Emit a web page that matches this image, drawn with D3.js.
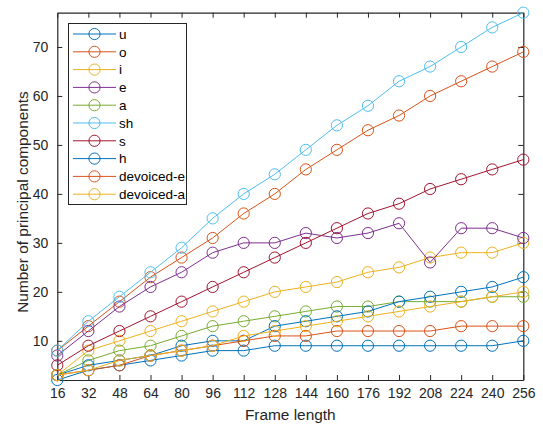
<!DOCTYPE html>
<html lang="en">
  <head>
    <meta charset="utf-8">
    <title>Principal components vs frame length</title>
    <script type="text/javascript" src="https://d3js.org/d3.v7.min.js"></script>
    <style type="text/css">
    body {
      margin: 0;
      background: white;
    }
    text {
      font-family: "Liberation Sans", Arial, Helvetica, sans-serif;
      font-weight: normal;
      fill: #262626;
    }
    .axis path,
    .axis line {
      stroke: #262626;
    }
    .axis text {
      font-size: 14px;
    }
    .label {
      font-size: 15.4px;
    }
    .legend text {
      font-size: 13.5px;
      fill: #000;
    }
    </style>
  </head>
  <body>
    <svg width="543" height="425" id="chart"></svg>

    <script type="text/javascript">

    const frameLengths = [16, 32, 48, 64, 80, 96, 112, 128, 144, 160, 176, 192, 208, 224, 240, 256];
    const yTicks = [10, 20, 30, 40, 50, 60, 70];

    const seriesNames = ["u", "o", "i", "e", "a", "sh", "s", "h", "devoiced-e", "devoiced-a"];
    const seriesColors = ["#0072BD", "#D95319", "#EDB120", "#7E2F8E", "#77AC30", "#4DBEEE", "#A2142F", "#0072BD", "#D95319", "#EDB120"];

    const u  = [2, 4, 5, 6, 7, 8, 8, 9, 9, 9, 9, 9, 9, 9, 9, 10];
    const o  = [8, 13, 18, 23, 27, 31, 36, 40, 45, 49, 53, 56, 60, 63, 66, 69];
    const i_ = [3, 8, 10, 12, 14, 16, 18, 20, 21, 22, 24, 25, 27, 28, 28, 30];
    const e  = [7, 12, 17, 21, 24, 28, 30, 30, 32, 31, 32, 34, 26, 33, 33, 31];
    const a  = [3, 6, 8, 9, 11, 13, 14, 15, 16, 17, 17, 18, 18, 18, 19, 19];
    const sh = [8, 14, 19, 24, 29, 35, 40, 44, 49, 54, 58, 63, 66, 70, 74, 77];
    const s  = [5, 9, 12, 15, 18, 21, 24, 27, 30, 33, 36, 38, 41, 43, 45, 47];
    const h  = [3, 5, 6, 7, 9, 10, 10, 13, 14, 15, 16, 18, 19, 20, 21, 23];
    const devoicedE = [3, 4, 5, 7, 8, 9, 10, 11, 11, 12, 12, 12, 12, 13, 13, 13];
    const devoicedA = [3, 4, 6, 7, 8, 9, 11, 12, 13, 14, 15, 16, 17, 18, 19, 20];

    const seriesValues = [u, o, i_, e, a, sh, s, h, devoicedE, devoicedA];

    const plotL = 57.3, plotR = 523.3, plotT = 12.7, plotB = 380;

    const xScale = d3.scaleLinear()
        .domain([16, 256])
        .range([plotL, plotR]);

    const yScale = d3.scaleLinear()
        .domain([2, 77])
        .range([plotB, plotT]);

    const svg = d3.select("#chart");

    // axes (ticks inside, box on)
    svg.append("g")
        .attr("class", "axis")
        .attr("transform", "translate(0," + plotB + ")")
        .call(d3.axisBottom(xScale).tickValues(frameLengths).tickSizeInner(-5).tickSizeOuter(0).tickPadding(8));

    svg.append("g")
        .attr("class", "axis")
        .attr("transform", "translate(0," + plotT + ")")
        .call(d3.axisTop(xScale).tickValues(frameLengths).tickSizeInner(-5).tickSizeOuter(0).tickFormat(""));

    svg.append("g")
        .attr("class", "axis")
        .attr("transform", "translate(" + plotL + ",0)")
        .call(d3.axisLeft(yScale).tickValues(yTicks).tickSizeInner(-5).tickSizeOuter(0).tickPadding(9));

    svg.append("g")
        .attr("class", "axis")
        .attr("transform", "translate(" + plotR + ",0)")
        .call(d3.axisRight(yScale).tickValues(yTicks).tickSizeInner(-5).tickSizeOuter(0).tickFormat(""));

    svg.selectAll(".axis .domain").attr("stroke-width", 1.2);

    // lines
    const line = d3.line()
        .x((d, k) => xScale(frameLengths[k]))
        .y(d => yScale(d));

    seriesValues.forEach((vals, n) => {
      const g = svg.append("g");
      g.append("path")
          .datum(vals)
          .attr("d", line)
          .attr("fill", "none")
          .attr("stroke", seriesColors[n])
          .attr("stroke-width", 1);
      g.selectAll("circle")
          .data(vals)
          .enter()
          .append("circle")
          .attr("cx", (d, k) => xScale(frameLengths[k]))
          .attr("cy", d => yScale(d))
          .attr("r", 5.6)
          .attr("fill", "none")
          .attr("stroke", seriesColors[n])
          .attr("stroke-width", 1);
    });

    // axis labels
    svg.append("text")
        .attr("class", "label")
        .attr("text-anchor", "middle")
        .attr("x", (plotL + plotR) / 2)
        .attr("y", 420)
        .text("Frame length");

    svg.append("text")
        .attr("class", "label")
        .attr("text-anchor", "middle")
        .attr("transform", "translate(28,202) rotate(-90)")
        .text("Number of principal components");

    // legend
    const legend = svg.append("g").attr("class", "legend");
    legend.append("rect")
        .attr("x", 68.5)
        .attr("y", 23.5)
        .attr("width", 118)
        .attr("height", 181)
        .attr("fill", "white")
        .attr("stroke", "#262626")
        .attr("stroke-width", 1);

    seriesNames.forEach((name, n) => {
      const y = 34 + n * 17.8;
      legend.append("line")
          .attr("x1", 73).attr("x2", 116)
          .attr("y1", y).attr("y2", y)
          .attr("stroke", seriesColors[n])
          .attr("stroke-width", 1);
      legend.append("circle")
          .attr("cx", 94.5).attr("cy", y)
          .attr("r", 5.6)
          .attr("fill", "none")
          .attr("stroke", seriesColors[n])
          .attr("stroke-width", 1);
      legend.append("text")
          .attr("x", 119)
          .attr("y", y)
          .attr("dy", "0.35em")
          .text(name);
    });

    </script>
  </body>
</html>
